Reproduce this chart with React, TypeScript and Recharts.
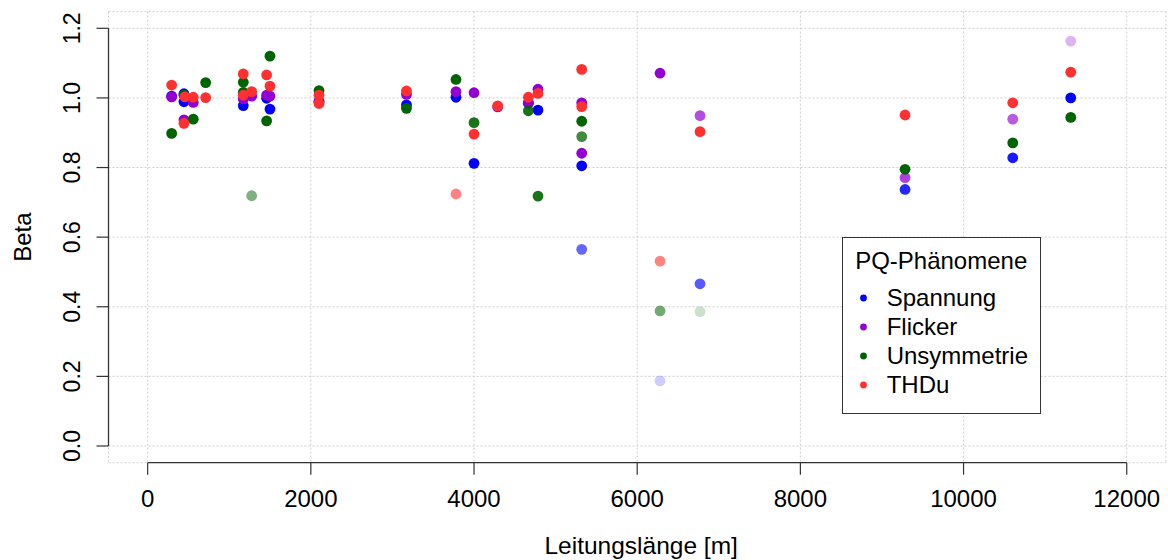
import React from 'react';
import { ScatterChart, Scatter, XAxis, YAxis, CartesianGrid, ReferenceLine, Legend, Label } from 'recharts';

type Pt = { x: number; y: number; a: number };

const xTicks = [0, 2000, 4000, 6000, 8000, 10000, 12000];
const yTicks = [0, 0.2, 0.4, 0.6, 0.8, 1.0, 1.2];
const xDomain: [number, number] = [-480, 12480];
const yDomain: [number, number] = [-0.048, 1.248];

const xTitle = 'Leitungslänge [m]';
const yTitle = 'Beta';
const legendTitle = 'PQ-Phänomene';
const seriesNames = ['Spannung', 'Flicker', 'Unsymmetrie', 'THDu'];
const seriesColors = ['#0000FF', '#9400D3', '#006400', '#FF3030'];

const spannung: Pt[] = [
  { x: 294, y: 1.005, a: 1 },
  { x: 445, y: 1.012, a: 1 },
  { x: 445, y: 0.989, a: 1 },
  { x: 1172, y: 0.978, a: 1 },
  { x: 1458, y: 0.999, a: 1 },
  { x: 1499, y: 0.968, a: 1 },
  { x: 2100, y: 0.99, a: 1 },
  { x: 3172, y: 0.98, a: 1 },
  { x: 3779, y: 1.002, a: 1 },
  { x: 4000, y: 0.812, a: 1 },
  { x: 4666, y: 0.985, a: 1 },
  { x: 4784, y: 0.965, a: 1 },
  { x: 5320, y: 0.805, a: 1 },
  { x: 5320, y: 0.565, a: 0.6 },
  { x: 6280, y: 0.187, a: 0.2 },
  { x: 6770, y: 0.466, a: 0.65 },
  { x: 9283, y: 0.737, a: 0.85 },
  { x: 10603, y: 0.828, a: 0.9 },
  { x: 11314, y: 1.0, a: 1 },
];

const flicker: Pt[] = [
  { x: 294, y: 1.003, a: 1 },
  { x: 445, y: 0.937, a: 1 },
  { x: 559, y: 0.987, a: 1 },
  { x: 1172, y: 0.997, a: 1 },
  { x: 1275, y: 1.005, a: 1 },
  { x: 1458, y: 1.008, a: 1 },
  { x: 1499, y: 1.005, a: 1 },
  { x: 2100, y: 0.99, a: 1 },
  { x: 3172, y: 1.01, a: 1 },
  { x: 3779, y: 1.018, a: 1 },
  { x: 4000, y: 1.015, a: 1 },
  { x: 4290, y: 0.974, a: 1 },
  { x: 4666, y: 0.986, a: 1 },
  { x: 4784, y: 1.025, a: 1 },
  { x: 5320, y: 0.986, a: 1 },
  { x: 5320, y: 0.841, a: 1 },
  { x: 6280, y: 1.071, a: 1 },
  { x: 6770, y: 0.949, a: 0.7 },
  { x: 9283, y: 0.771, a: 0.75 },
  { x: 10603, y: 0.939, a: 0.65 },
  { x: 11314, y: 1.163, a: 0.3 },
];

const unsymmetrie: Pt[] = [
  { x: 294, y: 0.898, a: 1 },
  { x: 445, y: 1.008, a: 1 },
  { x: 559, y: 0.939, a: 1 },
  { x: 711, y: 1.044, a: 1 },
  { x: 1172, y: 1.045, a: 1 },
  { x: 1172, y: 1.016, a: 1 },
  { x: 1275, y: 0.719, a: 0.5 },
  { x: 1458, y: 0.934, a: 1 },
  { x: 1499, y: 1.12, a: 1 },
  { x: 2100, y: 1.021, a: 1 },
  { x: 3172, y: 0.97, a: 1 },
  { x: 3779, y: 1.053, a: 1 },
  { x: 4000, y: 0.929, a: 0.9 },
  { x: 4666, y: 0.963, a: 0.9 },
  { x: 4784, y: 0.718, a: 0.9 },
  { x: 5320, y: 0.933, a: 1 },
  { x: 5320, y: 0.889, a: 0.75 },
  { x: 6280, y: 0.388, a: 0.55 },
  { x: 6770, y: 0.386, a: 0.2 },
  { x: 9283, y: 0.795, a: 1 },
  { x: 10603, y: 0.871, a: 1 },
  { x: 11314, y: 0.944, a: 1 },
];

const thdu: Pt[] = [
  { x: 294, y: 1.037, a: 1 },
  { x: 445, y: 0.927, a: 1 },
  { x: 457, y: 1.003, a: 1 },
  { x: 559, y: 1.002, a: 1 },
  { x: 711, y: 1.001, a: 1 },
  { x: 1172, y: 1.069, a: 1 },
  { x: 1172, y: 1.008, a: 1 },
  { x: 1275, y: 1.018, a: 1 },
  { x: 1458, y: 1.066, a: 1 },
  { x: 1499, y: 1.034, a: 1 },
  { x: 2100, y: 1.008, a: 1 },
  { x: 2100, y: 0.984, a: 1 },
  { x: 3172, y: 1.02, a: 1 },
  { x: 3779, y: 0.724, a: 0.6 },
  { x: 4000, y: 0.896, a: 1 },
  { x: 4290, y: 0.977, a: 1 },
  { x: 4666, y: 1.002, a: 1 },
  { x: 4784, y: 1.013, a: 1 },
  { x: 5320, y: 1.082, a: 1 },
  { x: 5320, y: 0.975, a: 1 },
  { x: 6280, y: 0.531, a: 0.6 },
  { x: 6770, y: 0.903, a: 1 },
  { x: 9283, y: 0.951, a: 1 },
  { x: 10603, y: 0.986, a: 1 },
  { x: 11314, y: 1.074, a: 1 },
];

const seriesData = [spannung, flicker, unsymmetrie, thdu];

const FONT = '"Liberation Sans", Arial, sans-serif';
const AXIS_COLOR = '#333';

const XTick = (props: any) => {
  const { x, y, payload } = props;
  return (
    <text x={x} y={y} dy="0.35em" textAnchor="middle" fontSize={24} fill="#000" fontFamily={FONT}>
      {payload.value}
    </text>
  );
};

const YTick = (props: any) => {
  const { x, y, payload } = props;
  return (
    <text
      x={x}
      y={y}
      dy="0.35em"
      textAnchor="middle"
      fontSize={23}
      fill="#000"
      fontFamily={FONT}
      transform={`rotate(-90, ${x}, ${y})`}
    >
      {Number(payload.value).toFixed(1)}
    </text>
  );
};

const makeShape = (color: string) => (props: any) => {
  const { cx, cy, payload } = props;
  if (cx == null || cy == null) return <g />;
  return <circle cx={cx} cy={cy} r={5.4} fill={color} fillOpacity={payload?.a ?? 1} />;
};

const LegendBox = () => (
  <div
    style={{
      position: 'relative',
      width: 199,
      height: 177,
      boxSizing: 'border-box',
      border: '1.3px solid #333',
      background: '#fff',
      fontFamily: FONT,
      fontSize: 24,
      color: '#000',
    }}
  >
    <div style={{ position: 'absolute', left: 0, right: 0, top: 23, transform: 'translateY(-50%)', textAlign: 'center', lineHeight: 1 }}>
      {legendTitle}
    </div>
    {seriesNames.map((name, i) => (
      <div
        key={name}
        style={{ position: 'absolute', left: 0, top: 60 + i * 29.2, transform: 'translateY(-50%)', height: 28, display: 'flex', alignItems: 'center' }}
      >
        <svg width={44} height={28} style={{ display: 'block' }}>
          <circle cx={20.5} cy={14} r={3.4} fill={seriesColors[i]} />
        </svg>
        <span style={{ lineHeight: 1 }}>{name}</span>
      </div>
    ))}
  </div>
);

export default function App() {
  return (
    <div style={{ position: 'absolute', left: 0, top: 0, width: 1168, height: 560, background: '#fff' }}>
      <ScatterChart width={1168} height={560} margin={{ top: 11.6, right: 2.1, bottom: 0, left: 0 }}>
        <CartesianGrid stroke="#CFCFCF" strokeDasharray="2 2" strokeWidth={1} />
        <XAxis
          type="number"
          dataKey="x"
          domain={xDomain}
          ticks={xTicks}
          allowDataOverflow
          height={97.3}
          axisLine={false}
          stroke={AXIS_COLOR}
          tickLine={{ stroke: AXIS_COLOR, strokeWidth: 1.2 }}
          tickSize={12}
          tickMargin={24}
          tick={<XTick />}
          interval={0}
        >
          <Label
            content={(p: any) => {
              const vb = p.viewBox || {};
              return (
                <text x={vb.x + vb.width / 2 + 4} y={vb.y + 83} dy="0.35em" textAnchor="middle" fontSize={24.5} fill="#000" fontFamily={FONT}>
                  {xTitle}
                </text>
              );
            }}
          />
        </XAxis>
        <YAxis
          type="number"
          dataKey="y"
          domain={yDomain}
          ticks={yTicks}
          allowDataOverflow
          width={108.5}
          axisLine={false}
          stroke={AXIS_COLOR}
          tickLine={{ stroke: AXIS_COLOR, strokeWidth: 1.2 }}
          tickSize={12}
          tickMargin={24.5}
          tick={<YTick />}
          interval={0}
        >
          <Label
            content={(p: any) => {
              const vb = p.viewBox || {};
              const cx = vb.x + 23;
              const cy = vb.y + vb.height / 2;
              return (
                <text x={cx} y={cy} dy="0.35em" textAnchor="middle" fontSize={24} fill="#000" fontFamily={FONT} transform={`rotate(-90, ${cx}, ${cy})`}>
                  {yTitle}
                </text>
              );
            }}
          />
        </YAxis>
        <ReferenceLine
          segment={[{ x: xTicks[0], y: yDomain[0] }, { x: xTicks[xTicks.length - 1], y: yDomain[0] }]}
          stroke={AXIS_COLOR}
          strokeWidth={1.3}
          ifOverflow="visible"
        />
        <ReferenceLine
          segment={[{ x: xDomain[0], y: yTicks[0] }, { x: xDomain[0], y: yTicks[yTicks.length - 1] }]}
          stroke={AXIS_COLOR}
          strokeWidth={1.3}
          ifOverflow="visible"
        />
        {seriesData.map((d, i) => (
          <Scatter
            key={seriesNames[i]}
            name={seriesNames[i]}
            data={d}
            fill={seriesColors[i]}
            shape={makeShape(seriesColors[i])}
            isAnimationActive={false}
          />
        ))}
        <Legend
          layout="vertical"
          align="center"
          verticalAlign="middle"
          wrapperStyle={{ left: 841.7, top: 236.7, width: 199, height: 177 }}
          content={() => <LegendBox />}
        />
      </ScatterChart>
    </div>
  );
}
